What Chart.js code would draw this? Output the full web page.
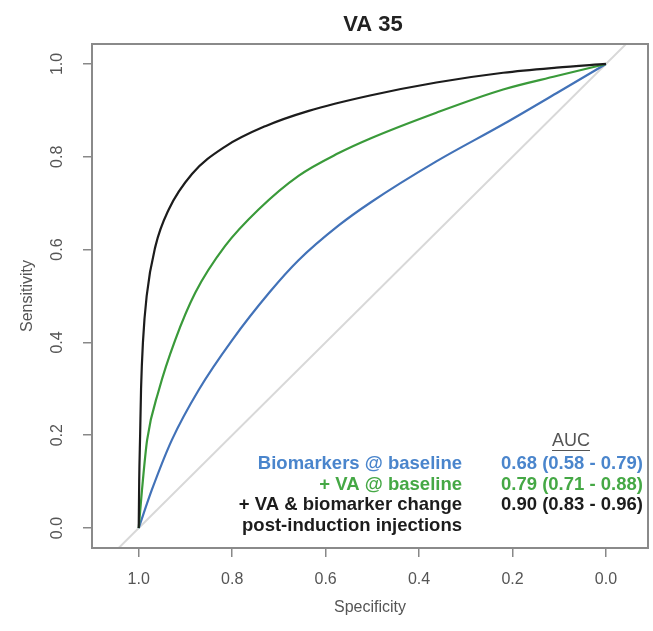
<!DOCTYPE html>
<html>
<head>
<meta charset="utf-8">
<script src="https://cdn.jsdelivr.net/npm/chart.js@4"></script>
<style>
  body { margin: 0; background: #fff; }
  #wrap { width: 653px; height: 631px; }
</style>
</head>
<body>
<div id="wrap"><canvas id="roc" width="653" height="631"></canvas></div>
<script>
// ROC curves: specificity (x) and sensitivity (y)
const blueSpec  = [1.0, 0.972, 0.929, 0.872, 0.800, 0.720, 0.658, 0.572, 0.503, 0.363, 0.220, 0.106, 0.0];
const blueSens  = [0.0, 0.082, 0.190, 0.297, 0.405, 0.508, 0.577, 0.652, 0.702, 0.790, 0.870, 0.937, 1.0];

const greenSpec = [1.0, 0.993, 0.982, 0.957, 0.922, 0.879, 0.815, 0.743, 0.658, 0.572, 0.503, 0.363, 0.220, 0.106, 0.0];
const greenSens = [0.0, 0.082, 0.190, 0.297, 0.405, 0.507, 0.608, 0.687, 0.759, 0.808, 0.840, 0.895, 0.945, 0.974, 1.0];

const blackSpec = [1.0, 0.999, 0.997, 0.995, 0.991, 0.983, 0.964, 0.936, 0.886, 0.815, 0.729, 0.636, 0.505, 0.363, 0.220, 0.106, 0.0];
const blackSens = [0.0, 0.100, 0.200, 0.300, 0.400, 0.500, 0.608, 0.686, 0.763, 0.822, 0.866, 0.899, 0.932, 0.960, 0.981, 0.992, 1.0];

// chance line, runs past the plot box and gets clipped
const diagSpec = [1.1, -0.1];
const diagSens = [-0.1, 1.1];

const specTicks = [1.0, 0.8, 0.6, 0.4, 0.2, 0.0];
const sensTicks = [0.0, 0.2, 0.4, 0.6, 0.8, 1.0];

const legendLabels = ['Biomarkers @ baseline', '+ VA @ baseline', '+ VA & biomarker change', 'post-induction injections'];
const aucLabels = ['0.68 (0.58 - 0.79)', '0.79 (0.71 - 0.88)', '0.90 (0.83 - 0.96)'];

const blueLine = '#4272b8', greenLine = '#3a9a3a', blackLine = '#1c1c1c';
const blueText = '#4a85cc', greenText = '#45a845', blackText = '#1c1c1c';
const legendColors = [blueText, greenText, blackText, blackText];
const aucColors = [blueText, greenText, blackText];

function toPoints(xs, ys) {
    return xs.map((x, i) => ({ x: x, y: ys[i] }));
}

const FONT = '"Liberation Sans", Arial, sans-serif';

// box, title, rotated y labels and the AUC legend
const extras = {
    id: 'extras',
    afterDraw(chart) {
        const ctx = chart.ctx;
        const a = chart.chartArea;
        const yScale = chart.scales.y;
        ctx.save();

        ctx.strokeStyle = '#8a8a8a';
        ctx.lineWidth = 2;
        ctx.strokeRect(a.left, a.top, a.right - a.left, a.bottom - a.top);

        ctx.fillStyle = '#222';
        ctx.font = 'bold 22px ' + FONT;
        ctx.textAlign = 'center';
        ctx.textBaseline = 'middle';
        ctx.fillText('VA 35', (a.left + a.right) / 2 + 3, 25);

        // y tick labels, turned like R does
        ctx.fillStyle = '#555';
        ctx.font = '16px ' + FONT;
        sensTicks.forEach(v => {
            ctx.save();
            ctx.translate(58, yScale.getPixelForValue(v));
            ctx.rotate(-Math.PI / 2);
            ctx.fillText(v.toFixed(1), 0, 0);
            ctx.restore();
        });

        // AUC header
        ctx.fillStyle = '#555';
        ctx.font = '18px ' + FONT;
        ctx.fillText('AUC', 571, 441);
        const w = ctx.measureText('AUC').width;
        ctx.lineWidth = 1.2;
        ctx.strokeStyle = '#555';
        ctx.beginPath();
        ctx.moveTo(571 - w / 2, 450.5);
        ctx.lineTo(571 + w / 2, 450.5);
        ctx.stroke();

        ctx.font = 'bold 18.5px ' + FONT;
        ctx.textAlign = 'right';
        legendLabels.forEach((t, i) => {
            ctx.fillStyle = legendColors[i];
            ctx.fillText(t, 462, 464 + i * 20.5);
        });
        ctx.textAlign = 'left';
        aucLabels.forEach((t, i) => {
            ctx.fillStyle = aucColors[i];
            ctx.fillText(t, 501, 464 + i * 20.5);
        });
        ctx.restore();
    }
};

const ctx = document.getElementById('roc').getContext('2d');
new Chart(ctx, {
    type: 'scatter',
    data: {
        datasets: [
            { data: toPoints(blackSpec, blackSens), borderColor: blackLine, borderWidth: 2.2, showLine: true, pointRadius: 0, cubicInterpolationMode: 'monotone', order: 1 },
            { data: toPoints(greenSpec, greenSens), borderColor: greenLine, borderWidth: 2.2, showLine: true, pointRadius: 0, cubicInterpolationMode: 'monotone', order: 2 },
            { data: toPoints(blueSpec, blueSens), borderColor: blueLine, borderWidth: 2.2, showLine: true, pointRadius: 0, cubicInterpolationMode: 'monotone', order: 3 },
            { data: toPoints(diagSpec, diagSens), borderColor: '#d8d8d8', borderWidth: 2, showLine: true, pointRadius: 0, order: 10 }
        ]
    },
    options: {
        responsive: false,
        animation: false,
        layout: { padding: { top: 44, right: 5, left: 0, bottom: 0 } },
        plugins: {
            legend: { display: false },
            tooltip: { enabled: false },
            title: { display: false }
        },
        scales: {
            x: {
                type: 'linear',
                reverse: true,
                min: -0.09,
                max: 1.1,
                afterBuildTicks: s => { s.ticks = specTicks.map(v => ({ value: v })); },
                afterFit: s => { s.height = 83; },
                border: { display: false },
                grid: { drawOnChartArea: false, drawTicks: true, tickLength: 9, color: '#888', lineWidth: 1.5 },
                ticks: {
                    color: '#555',
                    padding: 13,
                    font: { family: FONT, size: 16 },
                    callback: v => v.toFixed(1)
                },
                title: {
                    display: true,
                    text: 'Specificity',
                    color: '#555',
                    padding: { top: 2, bottom: 14 },
                    font: { family: FONT, size: 16 }
                }
            },
            y: {
                type: 'linear',
                min: -0.043,
                max: 1.043,
                afterBuildTicks: s => { s.ticks = sensTicks.map(v => ({ value: v })); },
                afterFit: s => { s.width = 92; },
                border: { display: false },
                grid: { drawOnChartArea: false, drawTicks: true, tickLength: 9, color: '#888', lineWidth: 1.5 },
                ticks: {
                    callback: () => ''
                },
                title: {
                    display: true,
                    text: 'Sensitivity',
                    color: '#555',
                    padding: { top: 18, bottom: 0 },
                    font: { family: FONT, size: 16 }
                }
            }
        }
    },
    plugins: [extras]
});
</script>
</body>
</html>
